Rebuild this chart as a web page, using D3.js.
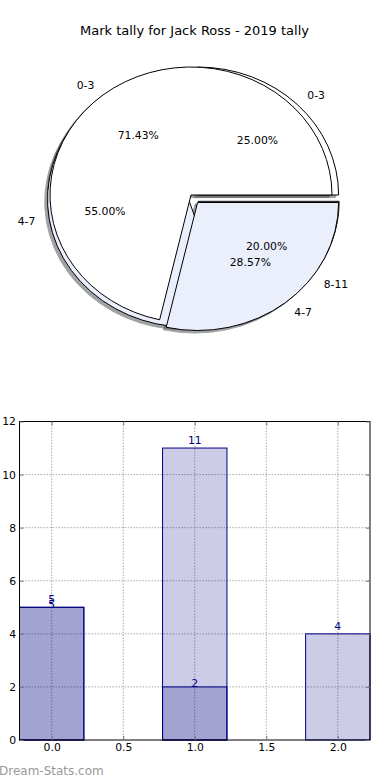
<!DOCTYPE html>
<html>
<head>
<meta charset="utf-8">
<script src="https://cdn.jsdelivr.net/npm/d3@7"></script>
<style>
  body { margin: 0; background: #fff; }
  svg { display: block; font-family: "DejaVu Sans", sans-serif; }
</style>
</head>
<body>
<div id="chart"></div>
<script>
// pie data (two pies on the same axes)
const pieLabelsA = ["0-3", "4-7"];
const pieValuesA = [5, 2];
const pieExplodeA = [0, 0.075];
const pieLabelsB = ["0-3", "4-7", "8-11"];
const pieValuesB = [5, 11, 4];
const pieExplodeB = [0.038, 0.038, 0.038];
const pieColors = ["#ffffff", "#eaeffb"];

// bar data
const barCats = [0, 1, 2];
const barSeries1 = [5, 2, 0];
const barSeries2 = [5, 11, 4];
const xTicks = [0, 0.5, 1, 1.5, 2];
const yTicks = [0, 2, 4, 6, 8, 10, 12];

const W = 390, H = 780;
const svg = d3.select("#chart").append("svg")
  .attr("width", W).attr("height", H);

svg.append("text")
  .attr("x", 194.5).attr("y", 34.5)
  .attr("text-anchor", "middle")
  .attr("font-size", "13px")
  .text("Mark tally for Jack Ross - 2019 tally");

// ---- pie ----
const xPie = d3.scaleLinear().domain([-1, 1]).range([50, 332]);
const yPie = d3.scaleLinear().domain([-1, 1]).range([323, 67]);
const rx = xPie(1) - xPie(0);
const ry = yPie(-1) - yPie(0);

const pieLayout = d3.pie().sort(null).startAngle(Math.PI / 2).endAngle(Math.PI / 2 - 2 * Math.PI);
const arc = d3.arc().innerRadius(0).outerRadius(rx);

function buildPie(labels, values, explode, center) {
  return pieLayout(values).map((d, i) => {
    const mid = (d.startAngle + d.endAngle) / 2;
    const ux = Math.sin(mid), uy = Math.cos(mid);
    const cx = center[0] + explode[i] * ux;
    const cy = center[1] + explode[i] * uy;
    return {
      arc: d, label: labels[i], color: pieColors[i % pieColors.length],
      cx, cy, ux, uy,
      pct: (100 * d.value / d3.sum(values)).toFixed(2) + "%"
    };
  });
}

const wedgesA = buildPie(pieLabelsA, pieValuesA, pieExplodeA, [0, 0]);
const wedgesB = buildPie(pieLabelsB, pieValuesB, pieExplodeB, [0.02, -0.027]);
const allWedges = wedgesB.concat(wedgesA);

const pieG = svg.append("g");

// shadows underneath everything
pieG.selectAll(".shadow")
  .data(allWedges)
  .join("path")
  .attr("class", "shadow")
  .attr("transform", d => `translate(${xPie(d.cx - 0.02)},${yPie(d.cy - 0.02)}) scale(1,${ry / rx})`)
  .attr("d", d => arc(d.arc))
  .attr("fill", d => { const c = d3.rgb(d.color); return d3.rgb(c.r * 0.3, c.g * 0.3, c.b * 0.3); })
  .attr("stroke", d => { const c = d3.rgb(d.color); return d3.rgb(c.r * 0.3, c.g * 0.3, c.b * 0.3); })
  .attr("vector-effect", "non-scaling-stroke")
  .attr("opacity", 0.5);

pieG.selectAll(".wedge")
  .data(allWedges)
  .join("path")
  .attr("class", "wedge")
  .attr("transform", d => `translate(${xPie(d.cx)},${yPie(d.cy)}) scale(1,${ry / rx})`)
  .attr("d", d => arc(d.arc))
  .attr("fill", d => d.color)
  .attr("stroke", "#000")
  .attr("stroke-width", 1)
  .attr("vector-effect", "non-scaling-stroke");

pieG.selectAll(".plabel")
  .data(allWedges)
  .join("text")
  .attr("class", "plabel")
  .attr("x", d => xPie(d.cx + 1.1 * d.ux))
  .attr("y", d => yPie(d.cy + 1.1 * d.uy))
  .attr("dy", "0.35em")
  .attr("text-anchor", d => d.ux > 0 ? "start" : "end")
  .attr("font-size", "10.8px")
  .text(d => d.label);

pieG.selectAll(".pct")
  .data(allWedges)
  .join("text")
  .attr("class", "pct")
  .attr("x", d => xPie(d.cx + 0.6 * d.ux))
  .attr("y", d => yPie(d.cy + 0.6 * d.uy))
  .attr("dy", "0.35em")
  .attr("text-anchor", "middle")
  .attr("font-size", "10.8px")
  .text(d => d.pct);

// ---- bars ----
const margin = { left: 19.5, right: 370, top: 421.5, bottom: 740 };
const x = d3.scaleLinear().domain([-0.225, 2.225]).range([margin.left, margin.right]);
const y = d3.scaleLinear().domain([0, 12]).range([margin.bottom, margin.top]);
const barW = 0.45;

const g = svg.append("g");

// grid
g.selectAll(".gx").data(xTicks).join("line")
  .attr("x1", d => x(d)).attr("x2", d => x(d))
  .attr("y1", margin.top).attr("y2", margin.bottom)
  .attr("stroke", "#aaa").attr("stroke-dasharray", "1.5,1.5");
g.selectAll(".gy").data(yTicks.slice(1, -1)).join("line")
  .attr("y1", d => y(d)).attr("y2", d => y(d))
  .attr("x1", margin.left).attr("x2", margin.right)
  .attr("stroke", "#aaa").attr("stroke-dasharray", "1.5,1.5");

const bars = [
  { vals: barSeries2, off: -4 },
  { vals: barSeries1, off: 0.5 }
];

bars.forEach(s => {
  const pts = barCats.map((c, i) => ({ c, v: s.vals[i] })).filter(d => d.v > 0);
  g.append("g").selectAll("rect").data(pts).join("rect")
    .attr("x", d => x(d.c - barW / 2))
    .attr("width", d => x(d.c + barW / 2) - x(d.c - barW / 2))
    .attr("y", d => y(d.v))
    .attr("height", d => y(0) - y(d.v))
    .attr("fill", "navy").attr("fill-opacity", 0.2)
    .attr("stroke", "navy").attr("stroke-width", 1);
  g.append("g").selectAll("text").data(pts).join("text")
    .attr("x", d => x(d.c))
    .attr("y", d => y(d.v) + s.off)
    .attr("text-anchor", "middle")
    .attr("font-size", "10.8px")
    .attr("fill", "navy")
    .text(d => d.v);
});

// frame
g.append("rect")
  .attr("x", margin.left).attr("y", margin.top)
  .attr("width", margin.right - margin.left).attr("height", margin.bottom - margin.top)
  .attr("fill", "none").attr("stroke", "#000");

// inward ticks, all four sides
const axB = d3.axisBottom(x).tickValues(xTicks).tickFormat(d3.format(".1f")).tickSizeInner(-4).tickSizeOuter(0).tickPadding(3);
const axT = d3.axisTop(x).tickValues(xTicks).tickFormat("").tickSizeInner(-4).tickSizeOuter(0);
const axL = d3.axisLeft(y).tickValues(yTicks).tickFormat(d3.format("d")).tickSizeInner(-4).tickSizeOuter(0).tickPadding(3.5);
const axR = d3.axisRight(y).tickValues(yTicks).tickFormat("").tickSizeInner(-4).tickSizeOuter(0);

function styleAxis(sel) {
  sel.select(".domain").remove();
  sel.selectAll(".tick line").attr("stroke", "#777");
  sel.selectAll(".tick text").attr("fill", "#000").attr("font-size", "10.8px")
    .attr("font-family", "DejaVu Sans, sans-serif");
}
g.append("g").attr("transform", `translate(0,${margin.bottom})`).call(axB).call(styleAxis);
g.append("g").attr("transform", `translate(0,${margin.top})`).call(axT).call(styleAxis);
g.append("g").attr("transform", `translate(${margin.left},0)`).call(axL).call(styleAxis);
g.append("g").attr("transform", `translate(${margin.right},0)`).call(axR).call(styleAxis);

svg.append("text")
  .attr("x", -1).attr("y", 775)
  .attr("font-size", "12px")
  .attr("fill", "#999")
  .text("Dream-Stats.com");
</script>
</body>
</html>
